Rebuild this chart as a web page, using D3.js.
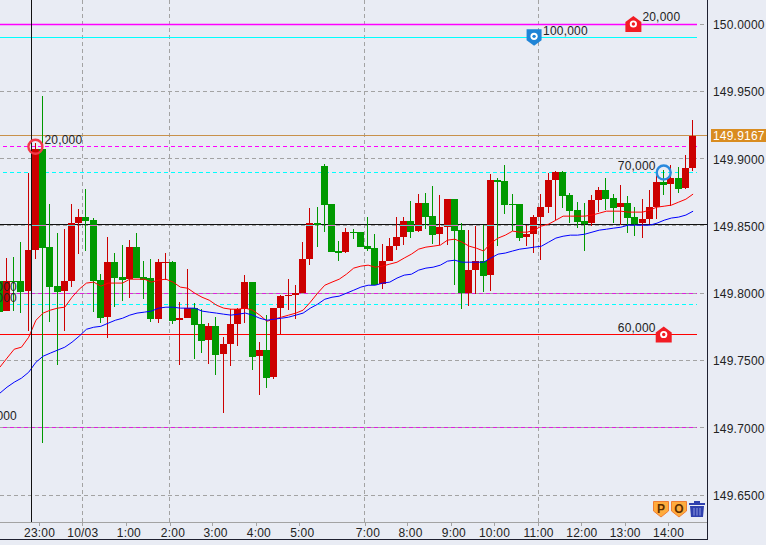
<!DOCTYPE html>
<html><head><meta charset="utf-8">
<script src="https://cdn.jsdelivr.net/npm/d3@7/dist/d3.min.js"></script>
<style>
html,body{margin:0;padding:0;background:#e9ecf4;overflow:hidden}
svg{display:block}
text{font-family:"Liberation Sans",Arial,sans-serif;font-size:12px;fill:#222;letter-spacing:.2px}
</style></head><body>
<svg id="c" width="766" height="545"></svg>
<script>
// first bar index is -5; index 0 is the bar under the crosshair
const firstIndex = -5;
const opens = [149.8091,149.7868,149.8091,149.8091,149.8016,
149.8321,149.9071,149.8343,149.8053,149.8016,149.8091,149.8521,149.8566,149.8543,149.8098,149.7823,149.8231,149.8120,149.8105,149.8343,149.8120,149.8113,149.7808,149.8224,149.8231,
149.7800,149.7815,149.7890,149.7770,149.7652,149.7755,149.7548,149.7622,149.7770,149.7882,149.8083,149.7533,149.7578,149.7377,149.7890,149.7979,149.7986,149.8001,149.8254,149.8521,149.8945,149.8662,149.8314,149.8306,
149.8454,149.8454,149.8350,149.8335,149.8068,149.8239,149.8350,149.8417,149.8536,149.8462,149.8670,149.8573,149.8439,149.8491,149.8699,149.8469,149.8001,149.8172,149.8239,149.8135,149.8841,149.8833,149.8662,149.8662,
149.8417,149.8439,149.8566,149.8640,149.8841,149.8900,149.8729,149.8618,149.8536,149.8521,149.8692,149.8766,149.8707,149.8640,149.8670,149.8566,149.8521,149.8551,149.8640,149.8826,149.8811,149.8855,149.8781,149.8930];
const highs = [149.8091,149.8262,149.8269,149.8380,149.8893,
149.9116,149.9465,149.8662,149.8447,149.8476,149.8662,149.8625,149.8774,149.8559,149.8142,149.8417,149.8299,149.8358,149.8395,149.8447,149.8239,149.8254,149.8254,149.8299,149.8239,
149.7934,149.8179,149.7927,149.7882,149.7778,149.7823,149.7674,149.7882,149.7890,149.8135,149.8083,149.7637,149.7838,149.7890,149.7986,149.8105,149.8060,149.8380,149.8633,149.8640,149.8959,149.8662,149.8387,149.8484,
149.8476,149.8454,149.8566,149.8439,149.8365,149.8410,149.8566,149.8566,149.8685,149.8737,149.8744,149.8796,149.8729,149.8699,149.8699,149.8521,149.8469,149.8499,149.8506,149.8885,149.8855,149.8952,149.8737,149.8662,
149.8506,149.8581,149.8737,149.8893,149.8907,149.8907,149.8744,149.8677,149.8670,149.8729,149.8789,149.8855,149.8737,149.8803,149.8722,149.8640,149.8699,149.8766,149.8900,149.8915,149.8952,149.8937,149.9026,149.9286];
const lows = [149.7860,149.7868,149.7868,149.7853,149.7719,
149.8254,149.6887,149.7785,149.7466,149.7719,149.8046,149.8291,149.8314,149.7860,149.7778,149.7667,149.7897,149.7942,149.7964,149.8113,149.7956,149.7785,149.7778,149.8098,149.7770,
149.7466,149.7815,149.7511,149.7556,149.7473,149.7392,149.7110,149.7458,149.7607,149.7778,149.7429,149.7243,149.7295,149.7362,149.7696,149.7875,149.7808,149.8001,149.8209,149.8343,149.8454,149.8306,149.8239,149.8299,
149.8402,149.8343,149.8314,149.8060,149.8031,149.8239,149.8321,149.8358,149.8410,149.8454,149.8476,149.8365,149.8358,149.8358,149.8060,149.7882,149.7904,149.7994,149.8008,149.8016,149.8350,149.8588,149.8462,149.8387,
149.8350,149.8299,149.8246,149.8595,149.8543,149.8633,149.8521,149.8484,149.8314,149.8499,149.8603,149.8618,149.8521,149.8506,149.8447,149.8424,149.8410,149.8514,149.8551,149.8729,149.8647,149.8744,149.8774,149.8907];
const closes = [149.7860,149.8091,149.8083,149.8008,149.8321,
149.9071,149.8335,149.8046,149.8008,149.8091,149.8521,149.8566,149.8536,149.8091,149.7815,149.8231,149.8113,149.8098,149.8343,149.8113,149.8098,149.7808,149.8231,149.8231,149.7793,
149.7815,149.7890,149.7763,149.7645,149.7755,149.7541,149.7622,149.7770,149.7882,149.8083,149.7526,149.7578,149.7370,149.7890,149.7979,149.7986,149.8001,149.8254,149.8521,149.8506,149.8655,149.8306,149.8299,149.8454,
149.8447,149.8343,149.8328,149.8060,149.8239,149.8350,149.8417,149.8536,149.8454,149.8670,149.8566,149.8432,149.8491,149.8699,149.8462,149.8001,149.8172,149.8239,149.8127,149.8841,149.8826,149.8655,149.8655,149.8410,
149.8439,149.8566,149.8640,149.8841,149.8900,149.8722,149.8610,149.8528,149.8514,149.8692,149.8766,149.8699,149.8633,149.8670,149.8559,149.8514,149.8551,149.8640,149.8826,149.8803,149.8855,149.8774,149.8930,149.9168];
const maFast = [149.7451,149.7519,149.7585,149.7600,149.7674,
149.7800,149.7853,149.7875,149.7890,149.7897,149.7971,149.8031,149.8076,149.8083,149.8053,149.8076,149.8076,149.8076,149.8105,149.8105,149.8105,149.8083,149.8098,149.8105,149.8083,
149.8046,149.8038,149.8001,149.7971,149.7949,149.7912,149.7890,149.7882,149.7882,149.7890,149.7875,149.7838,149.7793,149.7808,149.7823,149.7838,149.7853,149.7875,149.7934,149.8001,149.8060,149.8083,149.8105,149.8142,
149.8187,149.8202,149.8209,149.8194,149.8202,149.8217,149.8231,149.8262,149.8291,149.8328,149.8343,149.8350,149.8358,149.8395,149.8402,149.8380,149.8350,149.8335,149.8314,149.8373,149.8410,149.8432,149.8462,149.8454,
149.8454,149.8469,149.8499,149.8514,149.8543,149.8573,149.8573,149.8573,149.8573,149.8581,149.8595,149.8610,149.8610,149.8610,149.8603,149.8603,149.8603,149.8618,149.8640,149.8647,149.8655,149.8677,149.8699,149.8737];
const maSlow = [149.7258,149.7303,149.7340,149.7370,149.7414,
149.7488,149.7533,149.7556,149.7578,149.7600,149.7637,149.7682,149.7733,149.7748,149.7755,149.7778,149.7800,149.7815,149.7838,149.7853,149.7860,149.7868,149.7890,149.7897,149.7897,
149.7890,149.7890,149.7890,149.7868,149.7860,149.7853,149.7845,149.7838,149.7845,149.7853,149.7838,149.7815,149.7800,149.7808,149.7815,149.7823,149.7838,149.7853,149.7890,149.7919,149.7956,149.7971,149.7979,149.8001,
149.8023,149.8046,149.8060,149.8060,149.8076,149.8083,149.8113,149.8135,149.8142,149.8172,149.8187,149.8194,149.8209,149.8239,149.8246,149.8231,149.8231,149.8231,149.8231,149.8262,149.8291,149.8299,149.8314,149.8328,
149.8335,149.8343,149.8350,149.8380,149.8410,149.8424,149.8432,149.8432,149.8439,149.8454,149.8469,149.8476,149.8484,149.8491,149.8506,149.8506,149.8506,149.8506,149.8521,149.8543,149.8559,149.8566,149.8581,149.8610];

const priceTicks = [150,149.95,149.9,149.85,149.8,149.75,149.7,149.65];
const timeTickIndex = [0.5,6.5,12.5,18.6,24.5,30.5,36.5,45.6,51.5,57.5,63.5,69.6,75.6,81.6,87.6];
const timeLabels = ["23:00","10/03","1:00","2:00","3:00","4:00","5:00","7:00","8:00","9:00","10:00","11:00","12:00","13:00","14:00"];
const gridIndex = [6.5,18.6,45.6,69.6];

const solidLevels = [150.0,149.9901,149.9172,149.8514,149.7694];
const solidColors = ["#ff00ff","#00ffff","#c8914b","#111111","#ff0000"];
const dashedLevels = [149.9088,149.8897,149.8,149.7917,149.7];
const dashedColors = ["#ff00ff","#00ffff","#e020e0","#00ffff","#e020e0"];

const currentPrice = "149.9167";
const crosshairIndex = -0.55;

const houseIndex = [82.8,87], housePrice = [150.0,149.7694], houseLabels = ["20,000","60,000"];
const pinIndex = [69.05], pinPrice = [149.9901], pinLabels = ["100,000"];
const ringIndex = [0,87], ringPrice = [149.9088,149.8897], ringLabels = ["20,000","70,000"], ringColors=["#f23a48","#2a8ade"];
const clippedLabels = ["20,000","20,000","20,000"], clippedPrice = [149.8050,149.7970,149.7087];
const toolButtons = ["P","O"];

const W=707, AXIS_Y=522, BOTTOM=539;
const x = d3.scaleLinear().domain([-5,91]).range([-0.7,692.6]);
const y = d3.scaleLinear().domain([150,149.65]).range([24,495.3]);
const row = v => Math.floor(y(v))+0.5;
const svg = d3.select("#c");
svg.append("rect").attr("width",766).attr("height",545).attr("fill","#e9ecf4");

const bars = opens.map((o,k)=>({i:k+firstIndex,o,h:highs[k],l:lows[k],c:closes[k],f:maFast[k],s:maSlow[k]}));

// grid
const grid = svg.append("g").attr("shape-rendering","crispEdges");
grid.selectAll(".gh").data(priceTicks).join("line").attr("x1",0).attr("x2",W)
  .attr("y1",row).attr("y2",row).attr("stroke","#a3a3a3").attr("stroke-dasharray","4 3");
grid.selectAll(".gv").data(gridIndex).join("line").attr("class","gv")
  .attr("x1",d=>Math.floor(x(d))+.5).attr("x2",d=>Math.floor(x(d))+.5).attr("y1",0).attr("y2",AXIS_Y)
  .attr("stroke","#a3a3a3").attr("stroke-dasharray","4 3");

// price lines
const lines = svg.append("g");
lines.selectAll(".s").data(solidLevels).join("line").attr("class","s")
  .attr("x1",0).attr("x2",(d,k)=>(k===2||k===3)?W:697).attr("y1",row).attr("y2",row)
  .attr("stroke",(d,k)=>solidColors[k]).attr("stroke-width",(d,k)=>k===0?1.5:1)
  .attr("shape-rendering",(d,k)=>k===0?"auto":"crispEdges");
lines.selectAll(".d").data(dashedLevels).join("line").attr("class","d")
  .attr("x1",3).attr("x2",697).attr("y1",row).attr("y2",row)
  .attr("stroke",(d,k)=>dashedColors[k]).attr("stroke-dasharray","4 3").attr("shape-rendering","crispEdges");

// candles
const up = d=>d.c>=d.o;
const candle = svg.append("g").attr("shape-rendering","crispEdges").selectAll("g").data(bars).join("g");
candle.append("rect").attr("x",d=>Math.floor(x(d.i))).attr("width",1)
  .attr("y",d=>Math.round(y(d.h))).attr("height",d=>Math.max(1,Math.round(y(d.l))-Math.round(y(d.h))))
  .attr("fill",d=>up(d)?"#cc0000":"#009900");
candle.append("rect").attr("x",d=>Math.floor(x(d.i))-3).attr("width",7)
  .attr("y",d=>Math.round(y(Math.max(d.o,d.c))))
  .attr("height",d=>Math.max(1,Math.round(y(Math.min(d.o,d.c)))-Math.round(y(Math.max(d.o,d.c)))))
  .attr("fill",d=>up(d)?"#cc0000":"#009900");

// inverted dashes of the 149.85 line where it crosses a body
const lv = 149.85;
svg.append("g").attr("shape-rendering","crispEdges").selectAll("rect")
  .data(bars.filter(d=>Math.max(d.o,d.c)>=lv && Math.min(d.o,d.c)<=lv)).join("rect")
  .attr("x",d=>Math.floor(x(d.i))-3).attr("width",7).attr("y",Math.floor(y(lv))).attr("height",1)
  .attr("fill",d=>up(d)?"#5fd8d8":"#d873c8");

// moving averages
const maLine = k => d3.line().x(d=>x(d.i)+.5).y(d=>y(d[k]));
svg.append("path").datum(bars).attr("d",maLine("f")).attr("fill","none").attr("stroke","#ff0000").attr("stroke-width",1);
svg.append("path").datum(bars).attr("d",maLine("s")).attr("fill","none").attr("stroke","#0000ff").attr("stroke-width",1);

// crosshair
svg.append("line").attr("x1",Math.floor(x(crosshairIndex))+.5).attr("x2",Math.floor(x(crosshairIndex))+.5)
  .attr("y1",0).attr("y2",AXIS_Y).attr("stroke","#111").attr("shape-rendering","crispEdges");

// markers
const house = svg.append("g").selectAll("g").data(houseIndex).join("g")
  .attr("transform",(d,k)=>`translate(${x(d)},${y(housePrice[k])})`);
house.append("path").attr("d","M0,-8L8,-2V8H-8V-2Z").attr("fill","#f21c24");
house.append("circle").attr("r",3.6).attr("fill","#fff");
house.append("circle").attr("r",1.7).attr("fill","#f21c24");
const pin = svg.append("g").selectAll("g").data(pinIndex).join("g")
  .attr("transform",(d,k)=>`translate(${x(d)},${y(pinPrice[k])})`);
pin.append("path").attr("d","M-7.5,-8H7.5V3L0,8.5L-7.5,3Z").attr("fill","#1f84d6");
pin.append("circle").attr("cy",-1).attr("r",3.6).attr("fill","#fff");
pin.append("circle").attr("cy",-1).attr("r",1.7).attr("fill","#1f84d6");
svg.append("g").selectAll("circle").data(ringIndex).join("circle")
  .attr("cx",d=>x(d)).attr("cy",(d,k)=>y(ringPrice[k])).attr("r",7)
  .attr("fill","none").attr("stroke",(d,k)=>ringColors[k]).attr("stroke-width",2.4);

// marker labels
const lab = svg.append("g");
const dy4 = "0.35em";
lab.append("text").text(pinLabels[0]).attr("x",x(pinIndex[0])+9).attr("y",y(pinPrice[0])-7).attr("dy",dy4);
lab.append("text").text(houseLabels[0]).attr("x",x(houseIndex[0])+9).attr("y",y(housePrice[0])-7).attr("dy",dy4);
lab.append("text").text(houseLabels[1]).attr("x",x(houseIndex[1])-8).attr("text-anchor","end").attr("y",y(housePrice[1])-6.5).attr("dy",dy4);
lab.append("text").text(ringLabels[0]).attr("x",x(ringIndex[0])+9).attr("y",y(ringPrice[0])-7).attr("dy",dy4);
lab.append("text").text(ringLabels[1]).attr("x",x(ringIndex[1])-8).attr("text-anchor","end").attr("y",y(ringPrice[1])-7).attr("dy",dy4);
lab.selectAll(".cl").data(clippedLabels).join("text").attr("class","cl").text(d=>d)
  .attr("x",17).attr("text-anchor","end").attr("y",(d,k)=>y(clippedPrice[k])).attr("dy",dy4);

// axes
const xAxis = d3.axisBottom(x).tickValues(timeTickIndex).tickSize(3).tickPadding(3)
  .tickFormat((d,k)=>timeLabels[k]);
const gx = svg.append("g").attr("transform",`translate(0,${AXIS_Y+.5})`).call(xAxis);
gx.select(".domain").remove();
gx.selectAll(".tick line").attr("stroke","#a3a3a3").attr("shape-rendering","crispEdges");
gx.selectAll(".tick text")
  .attr("dx",d=>timeLabels[timeTickIndex.indexOf(d)].length===4?2.7:0);
gx.attr("font-size",null).attr("font-family",null);
svg.append("line").attr("x1",0).attr("x2",W).attr("y1",AXIS_Y+.5).attr("y2",AXIS_Y+.5)
  .attr("stroke","#a3a3a3").attr("stroke-width",1.5).attr("shape-rendering","crispEdges");
svg.append("line").attr("x1",0).attr("x2",W+1).attr("y1",BOTTOM+.5).attr("y2",BOTTOM+.5)
  .attr("stroke","#1e2030").attr("shape-rendering","crispEdges");
svg.append("line").attr("x1",W+.5).attr("x2",W+.5).attr("y1",0).attr("y2",BOTTOM+1)
  .attr("stroke","#1e2030").attr("shape-rendering","crispEdges");

const yAxis = d3.axisRight(y).tickValues(priceTicks).tickSize(0).tickPadding(0).tickFormat(d3.format(".4f"));
const gy = svg.append("g").attr("transform",`translate(${W+6},0.5)`).call(yAxis);
gy.select(".domain").remove();
gy.attr("font-size",null).attr("font-family",null);

// current price tag
const tagY = y(+currentPrice);
svg.append("rect").attr("x",711).attr("y",Math.round(tagY)-7).attr("width",55).attr("height",13).attr("fill","#d98c20");
svg.append("text").text(currentPrice).attr("x",713).attr("y",Math.round(tagY)+4).style("fill","#fff");

// tool buttons
const btn = svg.append("g").selectAll("g").data(toolButtons).join("g")
  .attr("transform",(d,k)=>`translate(${661+k*18},509)`);
btn.append("path").attr("d","M-7.5,-7.5H7.5V2L0,8L-7.5,2Z").attr("fill","#ffab3c").attr("stroke","#f07d33");
btn.append("text").text(d=>d).attr("text-anchor","middle").attr("y",3.5)
  .style("font-weight","bold").style("font-size","12px").style("fill","#5c2e00");
const trash = svg.append("g").attr("transform","translate(697,509)").attr("fill","#2f40ae");
trash.append("rect").attr("x",-8).attr("y",-6).attr("width",16).attr("height",2);
trash.append("rect").attr("x",-3).attr("y",-8).attr("width",6).attr("height",2);
trash.append("path").attr("d","M-7,-3H7L6,8H-6Z");
trash.selectAll("line").data([-3,0,3]).join("line").attr("x1",d=>d).attr("x2",d=>d).attr("y1",-1).attr("y2",6.5)
  .attr("stroke","#8f9ae0").attr("stroke-width",1);
</script>
</body></html>
